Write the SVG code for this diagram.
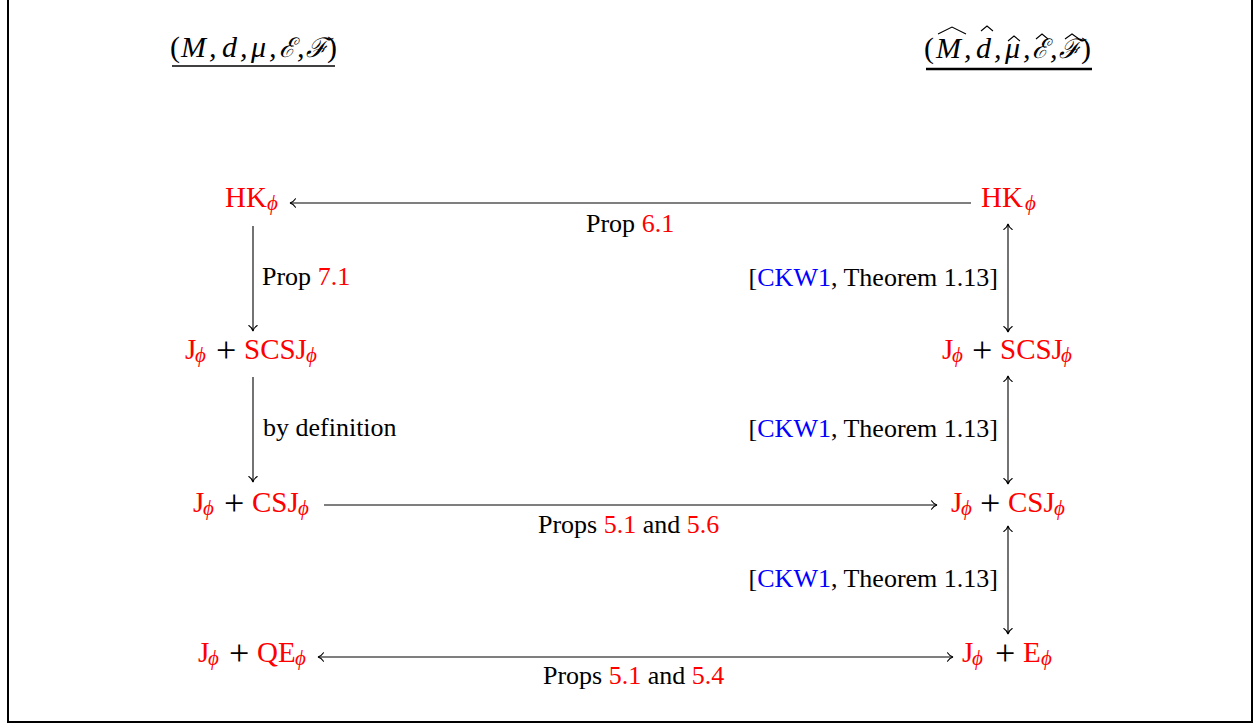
<svg xmlns="http://www.w3.org/2000/svg" width="1260" height="726" viewBox="0 0 1260 726">
<defs>
<style>
.m{font-family:"Liberation Serif","Times New Roman",serif;font-size:29px;fill:#000}
.s{font-family:"Liberation Serif","Times New Roman",serif;font-size:21px;font-style:italic}
.p{font-family:"Liberation Serif","Times New Roman",serif;font-size:36px;fill:#000}
.l{font-family:"Liberation Serif","Times New Roman",serif;font-size:26px;fill:#000}
.t{font-family:"Liberation Serif","DejaVu Serif",serif;font-size:30px;font-style:italic;fill:#000}
.u{font-style:normal}
.k{font-size:27px}
.r{fill:#ff0000}
.b{fill:#0000ff}
.c{stroke:#000;stroke-width:1.1;fill:none}
.h{stroke:#000;stroke-width:1.1;fill:none;stroke-linejoin:miter}
</style>
<marker id="ah" viewBox="-7 -6 9 12" markerWidth="9" markerHeight="12" refX="0" refY="0" orient="auto-start-reverse" markerUnits="userSpaceOnUse">
<path d="M-5.5,-4.2 C-3.8,-1.6 -1.6,-0.4 0,0 C-1.6,0.4 -3.8,1.6 -5.5,4.2" stroke="#000" stroke-width="1.1" fill="none" stroke-linecap="round"/>
</marker>
</defs>
<rect x="0" y="0" width="1260" height="726" fill="#fff"/>
<rect x="8" y="-2" width="1244" height="724" fill="none" stroke="#000" stroke-width="2"/>

<g id="title-left">
<text class="t" y="57"><tspan class="u" x="170">(</tspan><tspan x="181">M</tspan><tspan x="209">,</tspan><tspan x="222">d</tspan><tspan x="240">,</tspan><tspan x="251">μ</tspan><tspan x="269">,</tspan><tspan class="k" x="279">ℰ</tspan><tspan x="297">,</tspan><tspan class="k" x="306">ℱ</tspan><tspan class="u" x="327">)</tspan></text>
<line x1="172" y1="66" x2="335" y2="66" stroke="#000" stroke-width="1.3"/>
</g>
<g id="title-right">
<text class="t" y="58"><tspan class="u" x="924">(</tspan><tspan x="936">M</tspan><tspan x="964">,</tspan><tspan x="976">d</tspan><tspan x="994">,</tspan><tspan x="1005">μ</tspan><tspan x="1023">,</tspan><tspan class="k" x="1032">ℰ</tspan><tspan x="1050">,</tspan><tspan class="k" x="1059">ℱ</tspan><tspan class="u" x="1081">)</tspan></text>
<polyline class="h" points="938,34 952,27 966,34"/>
<polyline class="h" points="981,31 987,26 993,31"/>
<polyline class="h" points="1008,41 1014,36 1020,41"/>
<polyline class="h" points="1036,39 1042,34 1048,39"/>
<polyline class="h" points="1065,39 1072,34 1079,39"/>
<line x1="926" y1="69" x2="1092" y2="69" stroke="#000" stroke-width="2.4"/>
</g>

<g id="hk-left">
<text class="m r" y="207"><tspan x="225">HK</tspan><tspan class="s" x="267" dy="3">ϕ</tspan></text>
</g>
<g id="hk-right">
<text class="m r" y="207"><tspan x="981">HK</tspan><tspan class="s" x="1025" dy="3">ϕ</tspan></text>
</g>
<g id="scsj-left">
<text class="m" y="359"><tspan class="r" x="185">J</tspan><tspan class="s r" x="195" dy="3">ϕ</tspan><tspan class="p" x="216" dy="0">+</tspan><tspan class="r" x="244" dy="-3">SCSJ</tspan><tspan class="s r" x="306" dy="3">ϕ</tspan></text>
</g>
<g id="scsj-right">
<text class="m" y="359"><tspan class="r" x="942">J</tspan><tspan class="s r" x="952" dy="3">ϕ</tspan><tspan class="p" x="972" dy="0">+</tspan><tspan class="r" x="1000" dy="-3">SCSJ</tspan><tspan class="s r" x="1061" dy="3">ϕ</tspan></text>
</g>
<g id="csj-left">
<text class="m" y="512"><tspan class="r" x="193">J</tspan><tspan class="s r" x="203" dy="3">ϕ</tspan><tspan class="p" x="224" dy="0">+</tspan><tspan class="r" x="252" dy="-3">CSJ</tspan><tspan class="s r" x="298" dy="3">ϕ</tspan></text>
</g>
<g id="csj-right">
<text class="m" y="512"><tspan class="r" x="951">J</tspan><tspan class="s r" x="961" dy="3">ϕ</tspan><tspan class="p" x="980" dy="0">+</tspan><tspan class="r" x="1008" dy="-3">CSJ</tspan><tspan class="s r" x="1054" dy="3">ϕ</tspan></text>
</g>
<g id="qe-left">
<text class="m" y="662"><tspan class="r" x="198">J</tspan><tspan class="s r" x="208" dy="3">ϕ</tspan><tspan class="p" x="229" dy="0">+</tspan><tspan class="r" x="257" dy="-3">QE</tspan><tspan class="s r" x="295" dy="3">ϕ</tspan></text>
</g>
<g id="e-right">
<text class="m" y="662"><tspan class="r" x="962">J</tspan><tspan class="s r" x="972" dy="3">ϕ</tspan><tspan class="p" x="995" dy="0">+</tspan><tspan class="r" x="1023" dy="-3">E</tspan><tspan class="s r" x="1041" dy="3">ϕ</tspan></text>
</g>

<g id="connectors">
<line class="c" x1="971" y1="203" x2="290" y2="203" marker-end="url(#ah)"/>
<line class="c" x1="253" y1="226" x2="253" y2="331" marker-end="url(#ah)"/>
<line class="c" x1="1008" y1="224" x2="1008" y2="332" marker-start="url(#ah)" marker-end="url(#ah)"/>
<line class="c" x1="253" y1="377" x2="253" y2="482" marker-end="url(#ah)"/>
<line class="c" x1="1008" y1="376" x2="1008" y2="484" marker-start="url(#ah)" marker-end="url(#ah)"/>
<line class="c" x1="324" y1="505" x2="937" y2="505" marker-end="url(#ah)"/>
<line class="c" x1="1008" y1="526" x2="1008" y2="634" marker-start="url(#ah)" marker-end="url(#ah)"/>
<line class="c" x1="318" y1="657" x2="953" y2="657" marker-start="url(#ah)" marker-end="url(#ah)"/>
</g>

<g id="labels">
<text class="l" x="586" y="232">Prop <tspan class="r">6.1</tspan></text>
<text class="l" x="262" y="285">Prop <tspan class="r">7.1</tspan></text>
<text class="l" x="998" y="286" text-anchor="end">[<tspan class="b">CKW1</tspan>, Theorem 1.13]</text>
<text class="l" x="263" y="436">by definition</text>
<text class="l" x="998" y="437" text-anchor="end">[<tspan class="b">CKW1</tspan>, Theorem 1.13]</text>
<text class="l" x="538" y="533">Props <tspan class="r">5.1</tspan> and <tspan class="r">5.6</tspan></text>
<text class="l" x="998" y="587" text-anchor="end">[<tspan class="b">CKW1</tspan>, Theorem 1.13]</text>
<text class="l" x="543" y="684">Props <tspan class="r">5.1</tspan> and <tspan class="r">5.4</tspan></text>
</g>
</svg>
